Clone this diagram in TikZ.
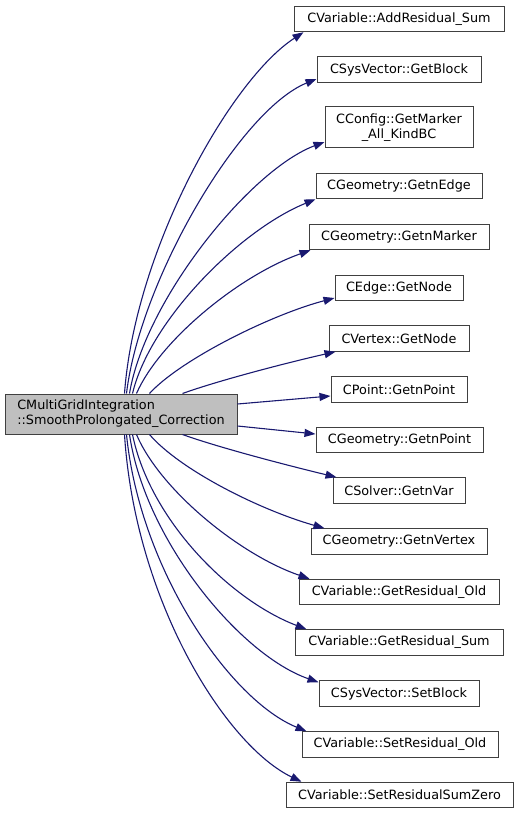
\documentclass[tikz,border=0pt]{standalone}
\usepackage{fontspec}
\setmainfont{DejaVu Sans}
\usetikzlibrary{arrows.meta}
\definecolor{edgecol}{HTML}{191970}
\definecolor{boxline}{HTML}{404040}
\definecolor{mainfill}{HTML}{BFBFBF}
\begin{document}
\begin{tikzpicture}[x=1pt,y=-1pt,
  fn/.style={draw=boxline,line width=1pt,fill=white,inner sep=0pt,minimum height=25.5pt,
    font=\fontsize{12.8}{15}\selectfont,align=center},
  mainbox/.style={fn,fill=mainfill,minimum width=232pt,minimum height=40pt,align=left},
  edge/.style={draw=edgecol,line width=1.1pt,-{Triangle[length=11pt,width=8pt]}}]
\useasboundingbox (0,0) rectangle (519,813);
\node[mainbox] (m) at (121,414) {CMultiGridIntegration\\::SmoothProlongated\_Correction};
\node[fn,minimum width=210pt] (t1) at (399,19) {CVariable::AddResidual\_Sum};
\node[fn,minimum width=164pt] (t2) at (399,69.5) {CSysVector::GetBlock};
\node[fn,minimum width=148pt,minimum height=41pt] (t3) at (399,127.5) {CConfig::GetMarker\\\_All\_KindBC};
\node[fn,minimum width=166pt] (t4) at (399,186) {CGeometry::GetnEdge};
\node[fn,minimum width=180pt] (t5) at (399,237) {CGeometry::GetnMarker};
\node[fn,minimum width=128pt] (t6) at (399,288) {CEdge::GetNode};
\node[fn,minimum width=140pt] (t7) at (399,338.5) {CVertex::GetNode};
\node[fn,minimum width=136pt] (t8) at (399,389.5) {CPoint::GetnPoint};
\node[fn,minimum width=167pt] (t9) at (399.5,440) {CGeometry::GetnPoint};
\node[fn,minimum width=132pt] (t10) at (399,490.5) {CSolver::GetnVar};
\node[fn,minimum width=176pt] (t11) at (399,541.5) {CGeometry::GetnVertex};
\node[fn,minimum width=200pt] (t12) at (399,592) {CVariable::GetResidual\_Old};
\node[fn,minimum width=208pt] (t13) at (399,642.5) {CVariable::GetResidual\_Sum};
\node[fn,minimum width=160pt] (t14) at (399,693.5) {CSysVector::SetBlock};
\node[fn,minimum width=196pt] (t15) at (400,744.5) {CVariable::SetResidual\_Old};
\node[fn,minimum width=227pt] (t16) at (399.5,795) {CVariable::SetResidualSumZero};
% upper edges
\draw[edge] ([xshift=120pt]m.north west) .. controls (135,250) and (230,80) .. ([xshift=10pt]t1.south west);
\draw[edge] ([xshift=122pt]m.north west) .. controls (140,280) and (240,110) .. ([yshift=-9.5pt]t2.west);
\draw[edge] ([xshift=125pt]m.north west) .. controls (145,300) and (250,170) .. ([yshift=-14.5pt]t3.west);
\draw[edge] ([xshift=128pt]m.north west) .. controls (150,320) and (240,230) .. (t4.south west);
\draw[edge] ([xshift=132pt]m.north west) .. controls (160,340) and (240,275) .. ([xshift=2pt]t5.south west);
\draw[edge] ([xshift=145pt]m.north west) .. controls (180,360) and (270,315) .. ([yshift=-10pt]t6.west);
\draw[edge] ([xshift=178pt]m.north west) .. controls (220,380) and (290,362) .. ([xshift=7pt]t7.south west);
\draw[edge] ([yshift=10pt]m.east) -- ([yshift=-6.5pt]t8.west);
\draw[edge] ([yshift=-12pt]m.east) -- ([yshift=6pt]t9.west);
% lower edges
\draw[edge] ([xshift=178pt]m.south west) .. controls (220,448) and (290,466) .. ([xshift=4pt]t10.north west);
\draw[edge] ([xshift=145pt]m.south west) .. controls (180,470) and (260,510) .. ([xshift=14pt]t11.north west);
\draw[edge] ([xshift=132pt]m.south west) .. controls (160,490) and (240,555) .. ([xshift=11pt]t12.north west);
\draw[edge] ([xshift=128pt]m.south west) .. controls (150,520) and (230,600) .. ([xshift=12pt]t13.north west);
\draw[edge] ([xshift=125pt]m.south west) .. controls (145,540) and (240,655) .. ([yshift=-2pt]t14.north west);
\draw[edge] ([xshift=122pt]m.south west) .. controls (140,570) and (230,700) .. ([xshift=5pt]t15.north west);
\draw[edge] ([xshift=120pt]m.south west) .. controls (135,600) and (225,745) .. ([xshift=16pt]t16.north west);
\end{tikzpicture}
\end{document}
